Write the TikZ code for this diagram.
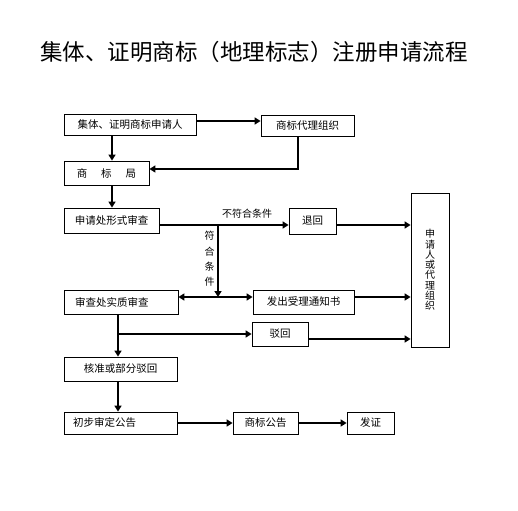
\documentclass[tikz,border=0pt]{standalone}
\usepackage{fontspec}
\setmainfont{Noto Sans CJK SC}
\usetikzlibrary{positioning,arrows.meta}

\begin{document}
\begin{tikzpicture}[
    x=1pt, y=-1pt,
    box/.style={draw, line width=0.8pt, minimum height=24pt, inner sep=2pt, font=\fontsize{10.5}{12}\selectfont},
    arrow/.style={-{Triangle[length=6pt,width=7pt]}, line width=1.8pt},
    both/.style={{Triangle[length=6pt,width=7pt]}-{Triangle[length=6pt,width=7pt]}, line width=1.8pt},
    lab/.style={font=\fontsize{10}{12}\selectfont, inner sep=0pt},
]
\useasboundingbox (0,0) rectangle (518,510);
\node[font=\fontsize{22.5}{26}\selectfont] (title) at (254,52) {集体、证明商标（地理标志）注册申请流程};

% boxes
\node[box, minimum width=132pt, minimum height=21pt] (appl) at (130,124.5) {集体、证明商标申请人};
\node[box, minimum width=93pt, minimum height=21pt] (agent) at (307.5,125.5) {商标代理组织};
\node[box, minimum width=85pt] (bureau) at (106.5,173) {商\hspace{14pt}标\hspace{14pt}局};
\node[box, minimum width=95pt, minimum height=25pt] (formal) at (111.5,220.5) {申请处形式审查};
\node[box, minimum width=47pt, minimum height=26pt] (back) at (312.5,221) {退回};
\node[box, minimum width=114pt, text width=92pt, align=left] (exam) at (121,302) {审查处实质审查};
\node[box, minimum width=101pt] (notice) at (303.5,302) {发出受理通知书};
\node[box, minimum width=56pt] (reject) at (280,334) {驳回};
\node[box, minimum width=113pt] (approve) at (120.5,369) {核准或部分驳回};
\node[box, minimum width=113pt, minimum height=22pt, text width=95pt, align=left] (prelim) at (120.5,423) {初步审定公告};
\node[box, minimum width=65pt, minimum height=22pt] (pub) at (265.5,423) {商标公告};
\node[box, minimum width=47pt, minimum height=22pt] (cert) at (370.5,423) {发证};
\node[box, minimum width=38pt, minimum height=154pt, align=center,
      font=\fontsize{10}{10.3}\selectfont] (party) at (430,270) {申\\请\\人\\或\\代\\理\\组\\织};

% labels
\node[lab] (fail) at (247,214) {不符合条件};
\node[lab, align=center, font=\fontsize{10}{15.3}\selectfont] (pass) at (209.5,259) {符\\合\\条\\件};

% branch points
\coordinate (split) at (218,225);
\coordinate (join) at (218,297);
\coordinate (fork) at (118,334);

% connectors
\draw[arrow] ([yshift=3.5pt]appl.east) -- ([yshift=3.5pt]appl.east -| agent.west);
\draw[arrow] ([xshift=5.5pt]bureau.north |- appl.south) -- ([xshift=5.5pt]bureau.north);
\draw[arrow] ([xshift=-9.5pt]agent.south) |- ([yshift=4pt]bureau.east);
\draw[arrow] ([xshift=5.5pt]bureau.south) -- ([xshift=5.5pt]bureau.south |- formal.north);
\draw[arrow] ([yshift=-4.5pt]formal.east) -- ([yshift=-4.5pt]formal.east -| back.west);
\draw[arrow] ([yshift=-4pt]back.east) -- ([yshift=-4pt]back.east -| party.west);
\draw[arrow] (split) -- (join);
\draw[arrow] (join) -- (join -| exam.east);
\draw[arrow] (join) -- (join -| notice.west);
\draw[arrow] ([yshift=5pt]notice.east) -- ([yshift=5pt]notice.east -| party.west);
\draw[arrow] (fork |- exam.south) -- (fork |- approve.north);
\draw[arrow] (fork) -- (reject.west);
\draw[arrow] ([yshift=-5pt]reject.east) -- ([yshift=-5pt]reject.east -| party.west);
\draw[arrow] (fork |- approve.south) -- (fork |- prelim.north);
\draw[arrow] (prelim) -- (pub);
\draw[arrow] (pub) -- (cert);
\end{tikzpicture}
\end{document}
